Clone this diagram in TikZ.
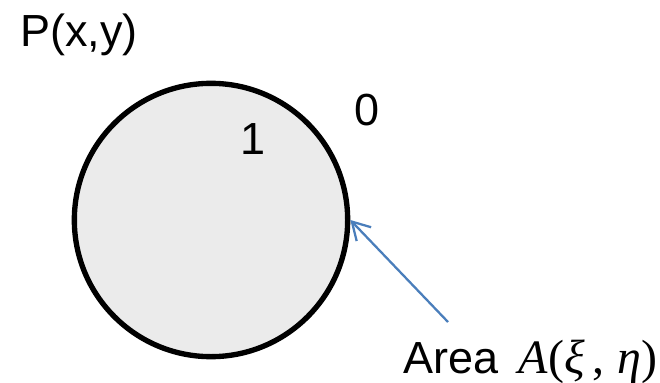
\documentclass[tikz,border=0pt]{standalone}
\usepackage{fontspec}
\setmainfont{Liberation Sans}
\newfontfamily\serifmath{Liberation Serif}
\usepackage{xcolor}
\usetikzlibrary{arrows.meta}
\definecolor{diskfill}{RGB}{235,235,235}
\definecolor{arrowblue}{RGB}{74,126,187}
\newcommand{\mi}[1]{\textit{#1}}
\tikzset{
  TX/.style={inner sep=0pt, font=\fontsize{33.75}{40}\selectfont},
  DK/.style={draw, circle, fill=diskfill, line width=4pt,
             minimum size=205pt, inner sep=0pt},
  BA/.style={-{Straight Barb[length=13pt, width=15pt]}, line width=1.7pt, arrowblue}
}
\begin{document}
\begin{tikzpicture}[x=0.75pt, y=-0.75pt]
\useasboundingbox (0,0) rectangle (660,382);

% Disk
\node[DK] (disk) at (211,220) {};

% Labels
\node[TX, anchor=base west] (P)    at (20,46)   {P(x,y)};
\node[TX, anchor=base]      (one)  at (253,154) {1};
\node[TX, anchor=base]      (zero) at (367,125) {0};
\node[TX, anchor=base west] (area) at (403,373)
    {Area\hspace{0.45em}{\serifmath\fontsize{36}{40}\selectfont\mi{A}(\mi{ξ}\,,\;\mi{η})}};

% Arrow to the boundary
\coordinate (tail) at (448,322);
\draw[BA] (tail) -- (disk.east);

\end{tikzpicture}
\end{document}
